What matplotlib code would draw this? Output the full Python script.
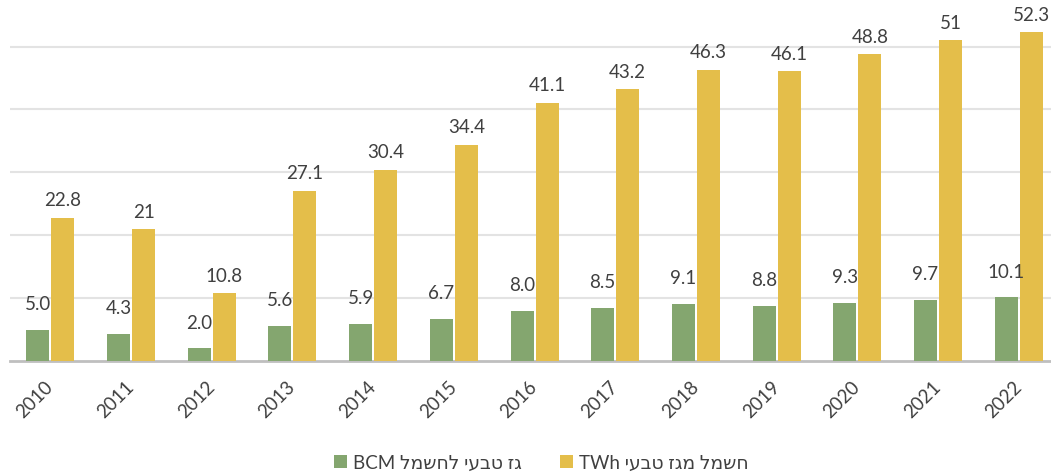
import matplotlib.pyplot as plt
import numpy as np

plt.rcParams['font.family'] = ['Lato', 'DejaVu Sans']

years = ['2010', '2011', '2012', '2013', '2014', '2015', '2016',
         '2017', '2018', '2019', '2020', '2021', '2022']
gas_bcm = [5.0, 4.3, 2.0, 5.6, 5.9, 6.7, 8.0, 8.5, 9.1, 8.8, 9.3, 9.7, 10.1]
elec_twh = [22.8, 21, 10.8, 27.1, 30.4, 34.4, 41.1, 43.2, 46.3, 46.1, 48.8, 51, 52.3]
gas_labels = ['5.0', '4.3', '2.0', '5.6', '5.9', '6.7', '8.0',
              '8.5', '9.1', '8.8', '9.3', '9.7', '10.1']
elec_labels = ['22.8', '21', '10.8', '27.1', '30.4', '34.4', '41.1',
               '43.2', '46.3', '46.1', '48.8', '51', '52.3']

# hebrew is right-to-left, matplotlib draws left-to-right -> reverse by hand
name_gas = 'BCM ' + 'גז טבעי לחשמל'[::-1]
name_elec = 'TWh ' + 'חשמל מגז טבעי'[::-1]

green = '#84A66F'
yellow = '#E4BE4A'
txt = '#404040'

fig = plt.figure(figsize=(10.51, 4.74), dpi=100)
ax = fig.add_axes([10 / 1051, 1 - 361 / 474, 1041 / 1051, 361 / 474])

x = np.arange(len(years))
w = 0.285
b1 = ax.bar(x - 0.155, gas_bcm, w, color=green, label=name_gas, zorder=3)
b2 = ax.bar(x + 0.155, elec_twh, w, color=yellow, label=name_elec, zorder=3)

ax.bar_label(b1, labels=gas_labels, padding=12, fontsize=13.5, color=txt)
ax.bar_label(b2, labels=elec_labels, padding=6, fontsize=13.5, color=txt)

ax.set_xlim(-0.5, 12.4)
ax.set_ylim(0, 57.4)
ax.set_yticks([10, 20, 30, 40, 50])
ax.yaxis.grid(True, color='#E3E3E3', linewidth=1.5, zorder=0)
ax.tick_params(axis='y', left=False, labelleft=False)
ax.tick_params(axis='x', length=0, pad=17)

ax.set_xticks(x)
ax.set_xticklabels(years, rotation=45, ha='right', va='center',
                   rotation_mode='anchor', fontsize=13.5, color=txt)

for s in ['top', 'right', 'left']:
    ax.spines[s].set_visible(False)
ax.spines['bottom'].set_color('#BFBFBF')
ax.spines['bottom'].set_linewidth(2)

fig.legend(loc='lower center', bbox_to_anchor=(0.515, -0.03), ncol=2,
           frameon=False, fontsize=13.5, handlelength=0.7, handleheight=0.7,
           handletextpad=0.35, columnspacing=2.0, labelcolor=txt)

plt.savefig('out.png', dpi=100)
